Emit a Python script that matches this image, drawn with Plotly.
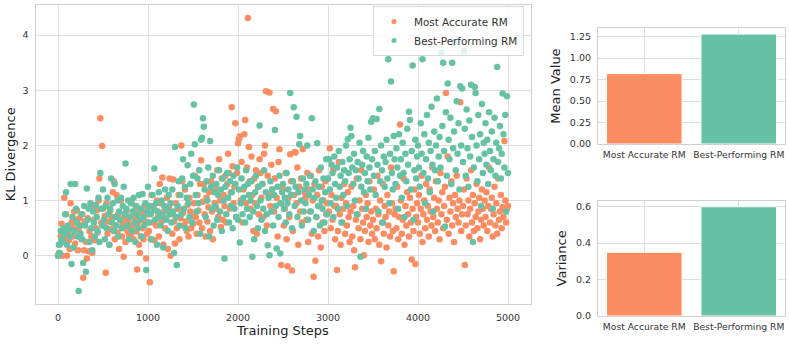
import plotly.graph_objects as go

# ---------------- data ----------------
step_start = 0
step_size = 10

most_accurate_kl = [
    0.00, 0.05, 0.20, 0.35, 0.58, 0.00, 0.45, 1.05, 0.30, 0.75, 0.00, 0.40, 0.28, 0.12, 0.95, 0.60, 0.35, 0.50, 0.80, 0.22, 0.65, 0.82, 0.10, 0.48, 0.68,
    0.55, 0.30, 0.75, -0.40, 0.10, 0.62, 0.25, -0.05, 0.68, 0.08, 0.45, 0.88, 0.35, 0.05, 0.92, 0.65, 0.28, 0.50, 0.82, 0.42, 1.00, 1.40, 2.49, 0.60, 1.99,
    0.85, 0.55, 0.72, -0.31, 0.95, 0.40, 0.62, 0.20, 0.82, 0.48, 0.70, 1.15, 1.35, 0.30, 0.55, 1.10, 0.42, 0.75, 0.12, 0.65, 1.00, 0.35, 0.58, -0.02, 0.68,
    0.25, 0.80, 0.45, 0.62, 0.38, 0.50, 0.40, 0.95, 0.55, 0.30, 0.70, 0.85, 0.44, -0.25, 0.60, 0.20, 0.05, 0.35, 0.78, 0.50, 0.30, 0.90, 0.62, -0.05, 0.40,
    0.75, 0.45, -0.48, 0.30, 1.10, 0.60, 0.90, 0.28, 0.82, 0.55, 1.00, 0.70, 0.35, 1.30, 0.95, 0.62, 1.42, 0.20, 0.80, 0.50, 0.68, 1.05, 0.12, 0.88, 1.40,
    0.00, 0.75, 0.40, 1.38, 0.62, 0.22, 0.95, 0.50, 0.85, 1.10, 0.30, 0.68, 2.00, 1.35, 0.78, 0.55, 1.20, 0.62, 0.45, 0.92, 0.35, 1.05, 0.80, 0.50, 0.72,
    0.58, 0.95, 1.45, 0.70, 0.40, 1.10, 0.82, 0.60, 1.30, 1.73, 0.50, 0.98, 1.30, 0.75, 0.35, 1.05, 0.62, 0.88, 1.15, 0.45, 1.35, 0.80, 0.30, 1.25, 0.95,
    1.20, 0.85, 1.55, 0.70, 1.75, 1.00, 0.52, 1.40, 0.65, 1.10, 0.90, 1.45, 0.60, 1.30, 1.85, 1.50, 0.85, 1.15, 2.69, 1.62, 0.95, 1.25, 2.40, 0.70, 1.50,
    2.04, 2.11, 2.16, 1.00, 1.70, 0.60, 1.20, 2.20, 2.46, 0.95, 1.60, 4.31, 1.97, 1.35, 0.85, 1.80, 1.10, 0.45, 1.40, 0.95, 1.55, 0.40, 1.25, 0.75, 1.75,
    1.50, 1.05, 1.30, 0.70, 1.85, 2.00, 2.98, 0.55, 1.45, 1.10, 2.96, 0.90, 1.65, 1.20, 2.66, 0.80, 1.40, 2.62, 1.05, 0.35, 1.70, 1.93, 0.95, -0.17, 1.25,
    1.20, 0.55, 0.85, 1.50, 0.30, -0.19, 1.05, 0.70, 1.84, 1.35, -0.27, 0.45, 1.10, 1.88, 1.87, 0.95, 1.60, 0.20, 1.25, 0.80, 1.40, 0.60, 1.93, 1.00, 1.15,
    1.05, 0.65, 1.50, 0.25, 1.20, 0.80, 1.45, 0.40, 1.00, -0.38, 1.30, -0.09, 0.70, 1.10, 0.35, 1.55, 0.90, 0.15, 1.25, 0.60, 1.00, 0.45, 1.35, 0.75, 0.95,
    1.40, 0.80, 1.95, 0.50, 1.10, 0.65, 1.55, 0.90, 0.30, 0.90, -0.26, 0.45, 1.70, 0.75, 0.20, 1.05, 0.60, 0.85, 1.30, 0.40, 0.95, 0.55, 1.15, 0.70, 0.25,
    0.80, 1.25, 0.35, 0.90, 0.10, -0.21, 0.65, 1.40, 0.75, 0.50, 1.00, 0.30, 1.55, 0.85, 0.60, 0.01, 0.45, 1.10, 0.70, 0.95, 0.25, 1.35, 0.55, 0.80, 0.40,
    0.65, 1.20, 0.30, 0.85, 0.50, 1.45, 0.75, 0.20, 1.00, -0.10, 0.60, 1.30, 0.40, 0.90, 0.70, 0.15, 1.10, 0.55, 0.80, 0.35, 1.60, 0.95, 0.45, -0.28, 0.75,
    0.85, 0.50, 1.25, 0.30, 0.70, 2.38, 1.00, 0.40, 0.65, 1.40, 0.20, 0.90, 0.55, 1.15, 0.75, 0.35, 1.05, 0.60, -0.07, 0.85, 0.45, 1.20, -0.15, 0.70, 0.95,
    0.60, 1.10, 0.40, 0.85, 1.45, 0.25, 0.75, 1.00, 0.50, 1.30, 0.65, 0.90, 0.35, 1.20, 0.80, 0.55, 1.60, 0.70, 1.05, 0.45, 1.35, 0.85, 0.60, 1.00, 0.30,
    1.50, 0.75, 1.15, 0.50, 0.90, 1.25, 2.95, 0.65, 1.80, 0.40, 1.05, 0.80, 1.35, 0.55, 0.95, 0.25, 1.10, 0.70, 1.45, 0.85, 0.60, 1.00, 2.78, 0.45, 0.75,
    0.90, 1.20, -0.17, 0.55, 1.40, 0.75, 1.00, 0.35, 0.85, 1.55, 0.60, 1.10, 0.45, 0.95, 0.70, 1.30, 0.50, 0.80, 1.05, 0.30, 0.65, 1.20, 0.85, 0.55, 1.00,
    0.70, 1.15, 0.45, 0.90, 1.60, 0.60, 0.85, 1.05, 0.35, 0.75, 1.25, 0.55, 0.95, 0.40, 1.40, 0.65, 0.80, 1.10, 0.50, 0.88, 0.70, 2.08, 1.00, 0.60, 0.85,
    0.90,
]

best_performing_kl = [
    0.00, 0.20, 0.05, 0.45, 0.30, 0.25, 0.50, 0.40, 0.75, 1.15, 0.20, 0.55, 0.48, 0.35, 1.30, -0.15, 0.70, 0.15, 0.45, 1.30, 0.85, 0.60, 0.35, -0.64, 0.55,
    0.40, 0.75, 0.30, -0.13, 0.90, 0.55, -0.29, 1.22, 0.65, 0.85, 0.25, 0.95, 0.50, 0.10, 0.80, 0.60, 0.35, 0.92, 0.70, 0.45, 1.05, 0.25, 1.50, 0.85, 0.55,
    1.20, 0.65, 0.30, 0.90, 0.50, 1.05, 0.75, 0.20, 0.85, 1.40, 0.60, 0.95, 0.45, 1.30, 0.70, 0.55, 1.00, 0.35, 0.80, 0.65, 1.05, 0.50, 0.90, 1.25, 0.75,
    1.67, 0.85, 0.55, 1.00, 0.30, 0.70, 0.95, 0.45, 0.80, 1.05, 0.60, 0.25, 0.90, 0.75, 0.50, 1.10, 0.65, 0.85, 0.35, 1.12, 0.70, 0.55, 0.95, -0.26, 0.80,
    1.25, 0.60, 0.90, 0.75, 0.30, 1.10, 0.85, 1.58, 0.65, 0.95, 0.20, 0.80, 1.15, 0.70, 0.55, 1.00, 0.75, 0.15, 0.90, 1.20, 0.65, 0.85, 0.45, 1.10, 0.75,
    0.95, 0.60, 1.20, 0.80, 0.05, 1.97, 0.70, -0.17, 0.90, 1.35, 0.55, 1.10, 0.75, 1.40, 1.75, 0.85, 1.25, 0.50, 1.05, 1.64, 0.95, 0.70, 1.30, 1.85, 0.60,
    1.45, 2.74, 2.02, 1.10, 0.80, 1.40, 0.95, 1.55, 0.40, 2.10, 2.14, 2.49, 2.34, 1.20, 0.70, 1.35, 1.00, 1.60, 0.35, 2.08, 1.25, 0.85, 1.45, 0.55, 1.15,
    0.90, 1.30, 0.65, 1.10, 1.55, 0.80, 1.20, 0.45, 1.40, 1.00, -0.05, 1.25, 0.75, 1.50, 1.05, 0.60, 1.35, 0.90, 1.15, 0.50, 1.45, 0.85, 1.30, 0.70, 1.60,
    0.65, 1.20, 0.24, 0.95, 1.40, 0.75, 1.05, 1.25, 0.60, 1.55, 0.85, 1.30, 1.10, 0.70, 1.00, 1.35, -0.02, 0.80, 0.30, 1.15, 1.45, 0.90, 0.50, 1.25, 2.36,
    1.00, 0.65, 1.30, 0.85, 1.55, 0.45, 1.15, 0.75, 0.19, 1.05, 0.01, 1.35, 0.80, 1.20, 0.55, 1.10, 2.28, 0.90, 0.13, 1.25, 0.70, 1.45, 0.04, 0.95, 1.15,
    1.30, 0.85, 1.05, 0.60, 1.50, 0.95, 1.20, 0.75, 2.95, 1.10, 0.50, 1.35, 2.69, 0.90, 1.25, 2.52, 0.70, 1.15, 2.02, 2.17, 1.00, 0.55, 1.40, 0.80, 1.20,
    0.95, 1.30, 2.00, 0.65, 1.10, 1.45, 0.80, 2.49, 1.20, 0.45, 1.05, 1.35, 0.70, 2.04, 0.90, 1.25, 0.55, 1.60, 1.00, 0.85, 1.40, 0.60, 1.15, 1.75, 0.75,
    1.40, 1.75, 1.20, 0.95, 1.65, 1.50, 0.70, 1.80, 1.30, 1.05, 1.60, 0.85, 1.90, 1.25, 1.45, 0.60, 1.70, 1.10, 1.55, 1.35, 2.00, 0.90, 2.11, 1.50, 1.75,
    2.32, 2.17, 1.60, 1.30, 1.85, 1.00, 1.55, 0.75, 1.70, 1.40, 2.05, -0.02, 1.25, 1.65, 1.90, 1.15, 1.50, 0.85, 1.80, 1.35, 2.14, 1.60, 1.20, 2.43, 1.75,
    2.49, 1.45, 1.90, 1.10, 2.48, 1.65, 0.80, 2.66, 1.35, 2.00, 1.55, 0.60, 1.80, 1.25, 1.70, 2.10, 1.40, 3.56, 0.95, 1.85, 3.16, 1.50, 1.20, 2.17, 1.75,
    1.30, 1.95, 1.60, 0.85, 2.20, 1.45, 1.75, 1.05, 2.05, 1.50, 0.70, 1.85, 1.35, 2.30, 1.65, 2.61, 2.46, 1.20, 1.90, 3.45, 0.65, 1.55, 2.10, 1.40, 1.80,
    2.00, 1.60, 1.25, 2.40, 1.85, 3.56, 1.50, 2.20, 0.95, 1.75, 2.55, 1.40, 2.05, 1.15, 1.90, 2.70, 1.65, 0.80, 2.25, 1.55, 2.00, 2.85, 1.35, 1.80, 2.15,
    1.60, 3.68, 2.35, 3.50, 1.90, 0.53, 2.60, 1.45, 3.12, 2.10, 1.75, 2.50, 1.30, 3.50, 1.95, 2.25, 3.86, 1.55, 2.80, 1.85, 2.40, 1.20, 3.07, 2.00, 3.03,
    1.70, 3.71, 2.30, 1.45, 2.65, 1.95, 1.25, 2.45, 1.80, 3.10, 2.15, 0.25, 1.60, 3.06, 2.95, 2.00, 1.35, 2.55, 1.75, 2.20, 0.90, 2.75, 1.50, 2.05, 1.85,
    2.40, 1.65, 2.10, 1.30, 2.60, 1.90, 1.55, 2.25, 0.85, 1.75, 2.50, 1.45, 2.05, 3.42, 1.70, 1.95, 2.35, 1.40, 1.85, 2.94, 2.20, 1.60, 2.55, 0.80, 2.89,
    1.50,
]

training_steps = [step_start + step_size * i for i in range(len(most_accurate_kl))]

series_names = ["Most Accurate RM", "Best-Performing RM"]
mean_values = [0.82, 1.28]
variance_values = [0.35, 0.60]

x_ticks = [0, 1000, 2000, 3000, 4000, 5000]
y_ticks = [0, 1, 2, 3, 4]
mean_ticks = [0.00, 0.25, 0.50, 0.75, 1.00, 1.25]
var_ticks = [0.0, 0.2, 0.4, 0.6]

# ---------------- styling ----------------
ORANGE = "#fc8d62"
GREEN = "#66c2a5"
GRID = "#dedede"
SPINE = "#d0d0d0"
TXT = "#333333"
FONT = "DejaVu Sans"
W, H = 789, 344


def px_x(a, b):
    return [a / W, b / W]


def px_y(top, bottom):
    return [1 - bottom / H, 1 - top / H]


fig = go.Figure()

fig.add_trace(go.Scatter(
    x=training_steps, y=most_accurate_kl, mode="markers", name=series_names[0],
    marker=dict(color=ORANGE, size=6.5, line=dict(width=0)), showlegend=False,
    xaxis="x", yaxis="y"))
fig.add_trace(go.Scatter(
    x=training_steps, y=best_performing_kl, mode="markers", name=series_names[1],
    marker=dict(color=GREEN, size=6.5, line=dict(width=0)), showlegend=False,
    xaxis="x", yaxis="y"))
# legend entries (smaller symbols, as in the reference)
for nm, col in zip(series_names, [ORANGE, GREEN]):
    fig.add_trace(go.Scatter(x=[None], y=[None], mode="markers", name=nm,
                             marker=dict(color=col, size=5), xaxis="x", yaxis="y"))

fig.add_trace(go.Bar(x=series_names, y=mean_values, marker=dict(color=[ORANGE, GREEN], line=dict(color="white", width=1)),
                     width=0.8, showlegend=False, xaxis="x2", yaxis="y2"))
fig.add_trace(go.Bar(x=series_names, y=variance_values, marker=dict(color=[ORANGE, GREEN], line=dict(color="white", width=1)),
                     width=0.8, showlegend=False, xaxis="x3", yaxis="y3"))

axis_common = dict(showline=True, mirror=True, linecolor=SPINE, linewidth=1.2,
                   showgrid=True, gridcolor=GRID, gridwidth=1, zeroline=False,
                   ticks="", tickfont=dict(family=FONT, size=9.5, color=TXT),
                   ticklabelstandoff=4, automargin=False)

title_font = dict(family=FONT, size=13, color="#222")

fig.update_layout(
    width=W, height=H, margin=dict(l=0, r=0, t=0, b=0, autoexpand=False),
    paper_bgcolor="white", plot_bgcolor="white",
    font=dict(family=FONT, color=TXT),
    showlegend=True,
    legend=dict(x=524 / W, y=1 - 6 / H, xanchor="right", yanchor="top",
                bgcolor="rgba(255,255,255,0.8)", bordercolor="#d8d8d8", borderwidth=1,
                font=dict(family=FONT, size=10.4, color=TXT), itemwidth=30,
                tracegroupgap=0),
    xaxis=dict(axis_common, domain=px_x(35.5, 530.5), range=[-250, 5250],
               tickvals=x_ticks, anchor="y",
               title=dict(text="Training Steps", font=title_font, standoff=4)),
    yaxis=dict(axis_common, domain=px_y(4.7, 304), range=[-0.875, 4.55],
               tickvals=y_ticks, anchor="x",
               title=dict(text="KL Divergence", font=title_font, standoff=3)),
    xaxis2=dict(axis_common, domain=px_x(598, 785), range=[-0.49, 1.49],
                type="category", anchor="y2", ticklabelstandoff=2,
                tickfont=dict(family=FONT, size=9.2, color=TXT)),
    yaxis2=dict(axis_common, domain=px_y(28, 144), range=[0, 1.351],
                tickvals=mean_ticks, tickformat=".2f", anchor="x2",
                title=dict(text="Mean Value", font=title_font, standoff=6)),
    xaxis3=dict(axis_common, domain=px_x(598, 785), range=[-0.49, 1.49],
                type="category", anchor="y3", ticklabelstandoff=2,
                tickfont=dict(family=FONT, size=9.2, color=TXT)),
    yaxis3=dict(axis_common, domain=px_y(200.7, 316), range=[0, 0.633],
                tickvals=var_ticks, tickformat=".1f", anchor="x3",
                title=dict(text="Variance", font=title_font, standoff=6)),
    bargap=0.2,
)

fig.write_html("out.html", config={"displayModeBar": False},
               post_script="document.body.style.margin='0';")
